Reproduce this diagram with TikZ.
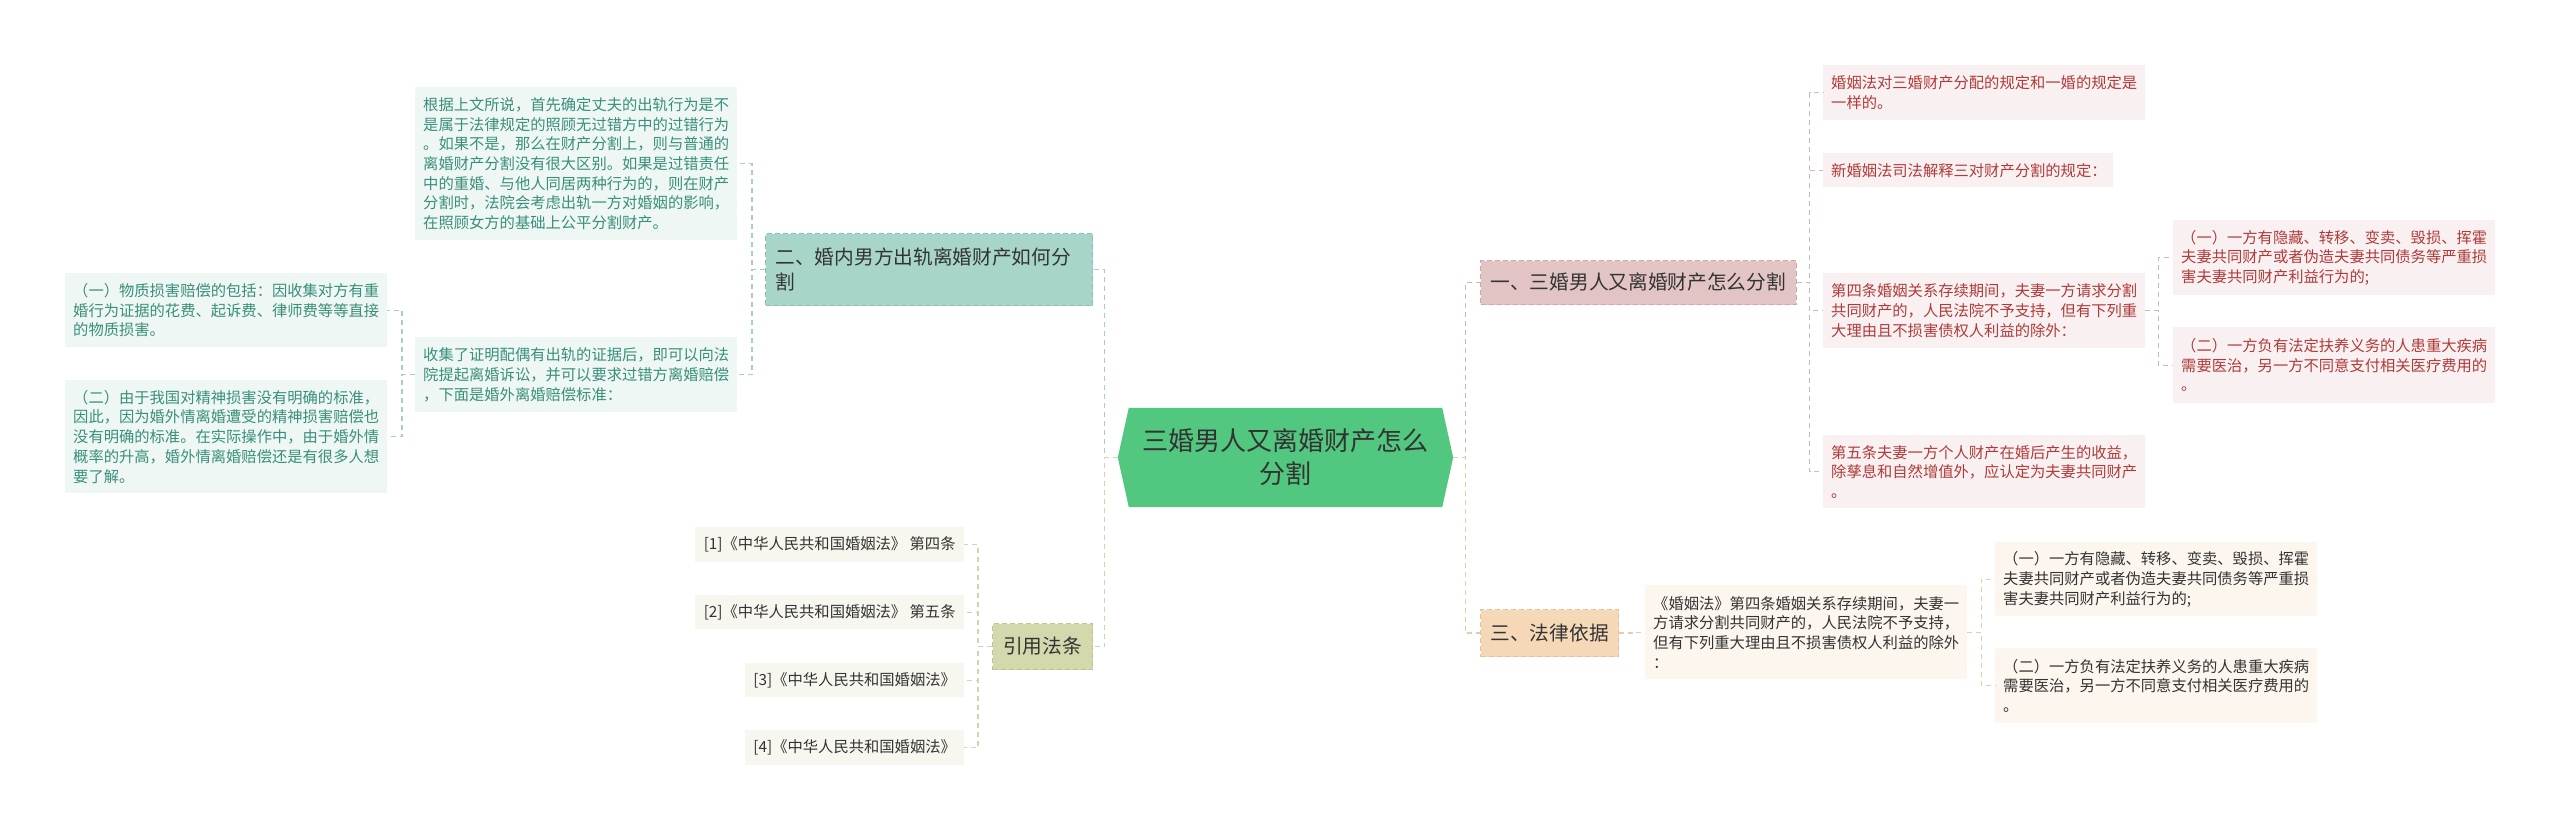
\documentclass[tikz,border=0pt]{standalone}
\usepackage{fontspec}
\setmainfont{Noto Sans CJK SC}
\usetikzlibrary{backgrounds}
\definecolor{hexg}{HTML}{52C77F}
\definecolor{pinkB}{HTML}{E3C4C4}
\definecolor{pinkD}{HTML}{CFA9A9}
\definecolor{pinkL}{HTML}{F9F1F1}
\definecolor{pinkT}{HTML}{B03A3A}
\definecolor{pinkC}{HTML}{D4B7B7}
\definecolor{tealB}{HTML}{A8D5CA}
\definecolor{tealD}{HTML}{8FBFB3}
\definecolor{tealL}{HTML}{EEF7F4}
\definecolor{tealT}{HTML}{3A8E7C}
\definecolor{tealC}{HTML}{A8CFC5}
\definecolor{peachB}{HTML}{F5D8B7}
\definecolor{peachD}{HTML}{E3C29C}
\definecolor{peachL}{HTML}{FCF6EF}
\definecolor{peachC}{HTML}{E8CCAA}
\definecolor{oliveB}{HTML}{D5D7AD}
\definecolor{oliveD}{HTML}{C0C293}
\definecolor{oliveL}{HTML}{F7F7EF}
\definecolor{oliveC}{HTML}{D3D4AE}
\definecolor{darkT}{HTML}{333333}
\tikzset{
  conn/.style={dash pattern=on 5pt off 4pt, line width=1.3pt},
  branch/.style={anchor=north west, inner xsep=10pt, inner ysep=0pt,
    font=\fontsize{19.7}{25}\selectfont, text=darkT,
    dash pattern=on 5pt off 3pt, line width=1pt},
  leaf/.style={anchor=north west, inner xsep=8pt, inner ysep=0pt, align=left,
    text width=306pt, font=\fontsize{15.3}{19.7}\selectfont},
  refbox/.style={anchor=north west, inner xsep=8pt, inner ysep=0pt, align=center,
    fill=oliveL, text=darkT, font=\fontsize{15.3}{19.7}\selectfont},
}
\begin{document}
\begin{tikzpicture}[x=1pt,y=-1pt]
\useasboundingbox (0,0) rectangle (2560,831);
\begin{scope}[on background layer]
\fill[white] (0,0) rectangle (2560,831);
\end{scope}

% center
\node[font=\fontsize{26}{33}\selectfont, text=darkT, align=center,
  minimum width=313pt, minimum height=99pt, inner sep=0pt] (c) at (1285.5,457.5)
  {三婚男人又离婚财产怎么\\分割};
\coordinate (cL) at ([xshift=-11pt]c.west);
\coordinate (cR) at ([xshift=11pt]c.east);
\begin{scope}[on background layer]
\fill[hexg] (c.north west) -- (c.north east) -- (cR) -- (c.south east) -- (c.south west) -- (cL) -- cycle;
\end{scope}

% branches
\node[branch, fill=pinkB, draw=pinkD, minimum width=315pt, minimum height=44pt] (b1) at (1480,260) {一、三婚男人又离婚财产怎么分割};
\node[branch, fill=peachB, draw=peachD, minimum width=137pt, minimum height=47pt] (b3) at (1480,609) {三、法律依据};
\node[branch, fill=tealB, draw=tealD, text width=307pt, align=left, minimum height=72pt] (b2) at (765,233) {二、婚内男方出轨离婚财产如何分\\割};
\node[branch, fill=oliveB, draw=oliveD, minimum width=100pt, minimum height=46pt] (b4) at (992,623) {引用法条};

% right: branch 1 leaves
\node[leaf, fill=pinkL, text=pinkT, minimum height=55pt] (r1) at (1823,65) {婚姻法对三婚财产分配的规定和一婚的规定是\\一样的。};
\node[leaf, fill=pinkL, text=pinkT, text width=274pt, minimum height=34pt] (r2) at (1823,153) {新婚姻法司法解释三对财产分割的规定：};
\node[leaf, fill=pinkL, text=pinkT, minimum height=75pt] (r3) at (1823,273) {第四条婚姻关系存续期间，夫妻一方请求分割\\共同财产的，人民法院不予支持，但有下列重\\大理由且不损害债权人利益的除外：};
\node[leaf, fill=pinkL, text=pinkT, minimum height=75pt] (r3a) at (2173,220) {（一）一方有隐藏、转移、变卖、毁损、挥霍\\夫妻共同财产或者伪造夫妻共同债务等严重损\\害夫妻共同财产利益行为的;};
\node[leaf, fill=pinkL, text=pinkT, minimum height=76pt] (r3b) at (2173,327) {（二）一方负有法定扶养义务的人患重大疾病\\需要医治，另一方不同意支付相关医疗费用的\\。};
\node[leaf, fill=pinkL, text=pinkT, minimum height=73pt] (r4) at (1823,435) {第五条夫妻一方个人财产在婚后产生的收益，\\除孳息和自然增值外，应认定为夫妻共同财产\\。};

% right: branch 3 leaves
\node[leaf, fill=peachL, text=darkT, minimum height=94pt] (l3) at (1645,585) {《婚姻法》第四条婚姻关系存续期间，夫妻一\\方请求分割共同财产的，人民法院不予支持，\\但有下列重大理由且不损害债权人利益的除外\\：};
\node[leaf, fill=peachL, text=darkT, minimum height=74pt] (l3a) at (1995,542) {（一）一方有隐藏、转移、变卖、毁损、挥霍\\夫妻共同财产或者伪造夫妻共同债务等严重损\\害夫妻共同财产利益行为的;};
\node[leaf, fill=peachL, text=darkT, minimum height=75pt] (l3b) at (1995,648) {（二）一方负有法定扶养义务的人患重大疾病\\需要医治，另一方不同意支付相关医疗费用的\\。};

% left: branch 2 leaves
\node[leaf, fill=tealL, text=tealT, minimum height=153pt] (tA) at (415,87) {根据上文所说，首先确定丈夫的出轨行为是不\\是属于法律规定的照顾无过错方中的过错行为\\。如果不是，那么在财产分割上，则与普通的\\离婚财产分割没有很大区别。如果是过错责任\\中的重婚、与他人同居两种行为的，则在财产\\分割时，法院会考虑出轨一方对婚姻的影响，\\在照顾女方的基础上公平分割财产。};
\node[leaf, fill=tealL, text=tealT, minimum height=75pt] (tB) at (415,337) {收集了证明配偶有出轨的证据后，即可以向法\\院提起离婚诉讼，并可以要求过错方离婚赔偿\\，下面是婚外离婚赔偿标准：};
\node[leaf, fill=tealL, text=tealT, minimum height=74pt] (tB1) at (65,273) {（一）物质损害赔偿的包括：因收集对方有重\\婚行为证据的花费、起诉费、律师费等等直接\\的物质损害。};
\node[leaf, fill=tealL, text=tealT, minimum height=113pt] (tB2) at (65,380) {（二）由于我国对精神损害没有明确的标准，\\因此，因为婚外情离婚遭受的精神损害赔偿也\\没有明确的标准。在实际操作中，由于婚外情\\概率的升高，婚外情离婚赔偿还是有很多人想\\要了解。};

% left: branch 4 leaves
\node[refbox, minimum width=269pt, minimum height=35pt] (f1) at (695,527) {[1]《中华人民共和国婚姻法》 第四条};
\node[refbox, minimum width=269pt, minimum height=34pt] (f2) at (695,595) {[2]《中华人民共和国婚姻法》 第五条};
\node[refbox, minimum width=219pt, minimum height=34pt] (f3) at (745,663) {[3]《中华人民共和国婚姻法》};
\node[refbox, minimum width=219pt, minimum height=35pt] (f4) at (745,730) {[4]《中华人民共和国婚姻法》};

% connectors from center
\draw[conn, pinkC] (cR) -- ++(12pt,0) |- (b1.west);
\draw[conn, peachC] (cR) -- ++(12pt,0) |- (b3.west);
\draw[conn, tealC] (cL) -- ++(-13pt,0) |- (b2.east);
\draw[conn, oliveC] (cL) -- ++(-13pt,0) |- (b4.east);

% branch 1
\foreach \t in {r1,r2,r3,r4}
  \draw[conn, pinkC] (b1.east) -- ++(13pt,0) |- (\t.west);
\foreach \t in {r3a,r3b}
  \draw[conn, pinkC] (r3.east) -- ++(13pt,0) |- (\t.west);

% branch 3
\draw[conn, peachC] (b3.east) -- ++(14pt,0) |- (l3.west);
\foreach \t in {l3a,l3b}
  \draw[conn, peachC] (l3.east) -- ++(14pt,0) |- (\t.west);

% branch 2
\foreach \t in {tA,tB}
  \draw[conn, tealC] (b2.west) -- ++(-13pt,0) |- (\t.east);
\foreach \t in {tB1,tB2}
  \draw[conn, tealC] (tB.west) -- ++(-13pt,0) |- (\t.east);

% branch 4
\foreach \t in {f1,f2,f3,f4}
  \draw[conn, oliveC] (b4.west) -- ++(-14pt,0) |- (\t.east);
\end{tikzpicture}
\end{document}
